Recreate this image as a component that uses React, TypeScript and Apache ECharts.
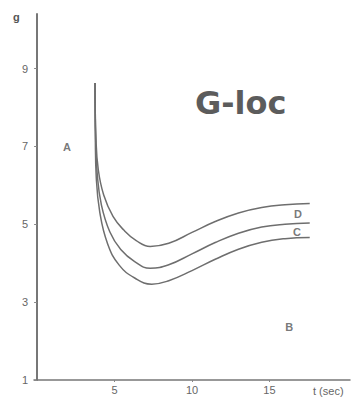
import React, { useEffect, useRef } from "react";
import * as echarts from "echarts";

const yTicks = [1, 3, 5, 7, 9];
const xTicks = [5, 10, 15];

// Curve D (top)
const dX = [3.74, 3.8, 3.95, 4.3, 4.9, 5.6, 6.4, 7.3, 8.5, 10, 11.5, 13, 14.5, 16, 17.6];
const dY = [8.63, 7.2, 6.4, 5.75, 5.2, 4.85, 4.58, 4.43, 4.51, 4.79, 5.07, 5.29, 5.43, 5.5, 5.53];
// Curve C (middle)
const cX = [3.74, 3.78, 3.88, 4.15, 4.7, 5.4, 6.3, 7.3, 8.5, 10, 11.5, 13, 14.5, 16, 17.6];
const cY = [8.63, 7.2, 6.3, 5.5, 4.8, 4.35, 4.04, 3.87, 3.96, 4.24, 4.53, 4.77, 4.93, 5.0, 5.03];
// Lowest curve
const lX = [3.74, 3.76, 3.82, 4.05, 4.55, 5.3, 6.3, 7.4, 8.5, 10, 11.5, 13, 14.5, 16, 17.6];
const lY = [8.63, 7.2, 6.2, 5.3, 4.5, 3.95, 3.62, 3.46, 3.55, 3.81, 4.1, 4.36, 4.54, 4.63, 4.66];

const letters = ["A", "B", "D", "C"];
const letterX = [1.93, 16.27, 16.84, 16.78];
const letterY = [6.98, 2.36, 5.27, 4.8];

const FONT = "'Liberation Sans', Arial, sans-serif";
const INK = "#6e6e6e";

export default function App() {
  const ref = useRef<HTMLDivElement>(null);
  useEffect(() => {
    document.body.style.margin = "0";
    const chart = echarts.init(ref.current!, null, { renderer: "svg" });
    const pair = (xs: number[], ys: number[]) => xs.map((x, i) => [x, ys[i]]);
    const lineSeries = (name: string, xs: number[], ys: number[]) => ({
      name,
      type: "line",
      data: pair(xs, ys),
      smooth: 0.45,
      showSymbol: false,
      symbol: "none",
      lineStyle: { color: INK, width: 1.5 },
      silent: true,
    });
    chart.setOption({
      animation: false,
      backgroundColor: "#ffffff",
      grid: { left: 34, right: 4, top: 14, bottom: 19 },
      xAxis: {
        type: "value",
        min: -0.2,
        max: 20.2,
        axisLine: { lineStyle: { color: "#777", width: 1.5 } },
        axisTick: { show: true, customValues: xTicks, length: 2, lineStyle: { color: "#888" } },
        axisLabel: { customValues: xTicks, color: "#666", fontSize: 11, fontFamily: FONT, margin: 4 },
        splitLine: { show: false },
      },
      yAxis: {
        type: "value",
        min: 1,
        max: 10.4,
        axisLine: { show: true, lineStyle: { color: "#777", width: 2 } },
        axisTick: { show: true, customValues: yTicks, length: 3, lineStyle: { color: "#888" } },
        axisLabel: { customValues: yTicks, color: "#666", fontSize: 11, fontFamily: FONT, margin: 6 },
        splitLine: { show: false },
      },
      series: [
        lineSeries("D", dX, dY),
        lineSeries("C", cX, cY),
        lineSeries("lower", lX, lY),
        {
          type: "scatter",
          symbolSize: 0,
          silent: true,
          data: letters.map((t, i) => ({ value: [letterX[i], letterY[i]], name: t })),
          label: {
            show: true,
            position: "inside",
            formatter: (p: any) => p.name,
            color: "#555",
            fontSize: 11,
            fontWeight: "bold",
            fontFamily: FONT,
          },
        },
      ],
      graphic: [
        {
          type: "text",
          left: 195,
          top: 87,
          style: { text: "G-loc", fill: "#5c5c5c", font: `bold 32px 'DejaVu Sans', sans-serif` },
        },
        {
          type: "text",
          left: 13,
          top: 11,
          style: { text: "g", fill: "#555", font: `bold 11px ${FONT}` },
        },
        {
          type: "text",
          left: 313,
          top: 385,
          style: { text: "t (sec)", fill: "#666", font: `11px ${FONT}` },
        },
      ],
    });
    return () => chart.dispose();
  }, []);
  return <div ref={ref} style={{ width: 354, height: 399 }} />;
}
